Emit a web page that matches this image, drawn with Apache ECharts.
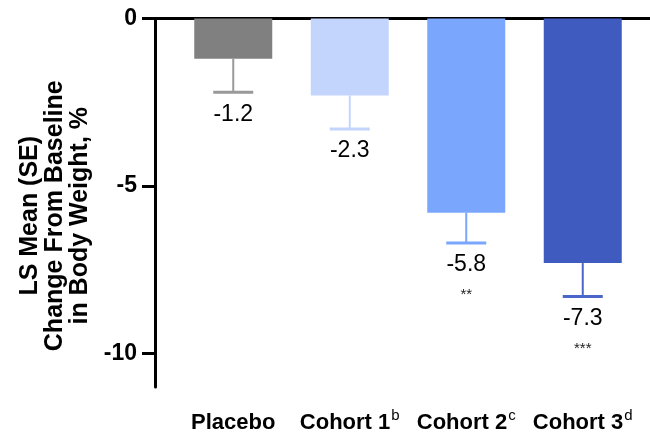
<!DOCTYPE html>
<html><head><meta charset="utf-8">
<script src="https://cdn.jsdelivr.net/npm/echarts@6/dist/echarts.min.js"></script>
<style>html,body{margin:0;padding:0;background:#fff}#c{width:650px;height:433px}</style>
</head><body><div id="c"></div>
<script>
const categories = ['Placebo', 'Cohort 1', 'Cohort 2', 'Cohort 3'];
const superscripts = ['', 'b', 'c', 'd'];
const lsMean = [-1.2, -2.3, -5.8, -7.3];
const se = [1.0, 1.0, 0.9, 1.0];
const valueLabels = ['-1.2', '-2.3', '-5.8', '-7.3'];
const significance = ['', '', '**', '***'];
const yTickLabels = [0, -5, -10];
const barColors = ['#808080', '#c3d5fc', '#7aa7fd', '#3f5bc0'];
const errColors = ['#999999', '#c3d5fc', '#7aa7fd', '#4a66c8'];

const FONT = '"Liberation Sans", Arial, sans-serif';
const chart = echarts.init(document.getElementById('c'), null, {renderer: 'canvas'});

const blackLine = {show: true, lineStyle: {color: '#000', width: 3}};

chart.setOption({
  animation: false,
  backgroundColor: '#fff',
  textStyle: {fontFamily: FONT},
  grid: [
    {left: 175, right: 9, top: 18.5, bottom: 46, containLabel: false, outerBoundsMode: 'none'},
    {left: 155, right: -2, top: 18.5, bottom: 46, containLabel: false, outerBoundsMode: 'none'}
  ],
  xAxis: [
    {
      type: 'category', gridIndex: 0, data: categories,
      axisLine: {show: false},
      axisTick: {show: true, alignWithLabel: true, length: 15, lineStyle: {color: '#000', width: 3}},
      axisLabel: {
        margin: 21, color: '#000', interval: 0, hideOverlap: false,
        formatter: (v, i) => '{b|' + v + '}' + (superscripts[i] ? '{sup|' + superscripts[i] + '}' : ''),
        rich: {
          b: {fontSize: 22, fontWeight: 'bold', fontFamily: FONT, color: '#000', lineHeight: 26, verticalAlign: 'bottom'},
          sup: {fontSize: 15, fontFamily: FONT, color: '#000', verticalAlign: 'top', lineHeight: 10, padding: [0, 0, 0, 1]}
        }
      },
      splitLine: {show: false}
    },
    {type: 'value', gridIndex: 1, min: 0, max: 1, position: 'bottom', axisLine: blackLine,
     axisTick: {show: false}, axisLabel: {show: false}, splitLine: {show: false}},
    {type: 'value', gridIndex: 1, min: 0, max: 1, position: 'top', axisLine: blackLine,
     axisTick: {show: false}, axisLabel: {show: false}, splitLine: {show: false}}
  ],
  yAxis: [
    {
      type: 'value', gridIndex: 0, min: -11, max: 0, interval: 1, offset: 20,
      axisLine: blackLine,
      axisTick: {show: true, length: 13, customValues: yTickLabels, lineStyle: {color: '#000', width: 3}},
      axisLabel: {customValues: yTickLabels, fontSize: 23, fontWeight: 'bold', color: '#000', margin: 18, fontFamily: FONT},
      splitLine: {show: false},
      name: 'LS Mean (SE)\nChange From Baseline\nin Body Weight, %',
      nameLocation: 'middle', nameGap: 62, nameRotate: 90,
      nameTextStyle: {fontSize: 25, fontWeight: 'bold', color: '#000', lineHeight: 25, fontFamily: FONT, align: 'center', padding: [0, 26, 0, 0]}
    },
    {
      type: 'value', gridIndex: 0, min: -11, max: 0, interval: 1, offset: 20,
      axisLine: {show: false},
      axisTick: {show: true, length: 8, lineStyle: {color: '#000', width: 3}},
      axisLabel: {show: false}, splitLine: {show: false}
    },
    {type: 'value', gridIndex: 1, min: -11, max: 0, show: false}
  ],
  series: [
    {
      type: 'bar', xAxisIndex: 0, yAxisIndex: 0, barWidth: 78,
      data: lsMean.map((v, i) => ({value: v, itemStyle: {color: barColors[i]}}))
    },
    {
      type: 'custom', xAxisIndex: 0, yAxisIndex: 0, clip: false, z: 5,
      data: lsMean.map((v, i) => [i, v, v - se[i]]),
      renderItem: (params, api) => {
        const i = params.dataIndex;
        const top = api.coord([api.value(0), api.value(1)]);
        const bot = api.coord([api.value(0), api.value(2)]);
        const col = errColors[i];
        const children = [
          {type: 'line', shape: {x1: top[0], y1: top[1], x2: bot[0], y2: bot[1]}, style: {stroke: col, lineWidth: 2}},
          {type: 'line', shape: {x1: bot[0] - 20, y1: bot[1], x2: bot[0] + 20, y2: bot[1]}, style: {stroke: col, lineWidth: 3}},
          {type: 'text', x: bot[0], y: bot[1] + 22, style: {text: valueLabels[i], fill: '#000', font: '23px ' + FONT, align: 'center', verticalAlign: 'middle'}}
        ];
        if (significance[i]) {
          children.push({type: 'text', x: bot[0], y: bot[1] + 52, style: {text: significance[i], fill: '#222', font: '15px ' + FONT, align: 'center', verticalAlign: 'middle'}});
        }
        return {type: 'group', children};
      }
    }
  ]
});
</script>
</body></html>
